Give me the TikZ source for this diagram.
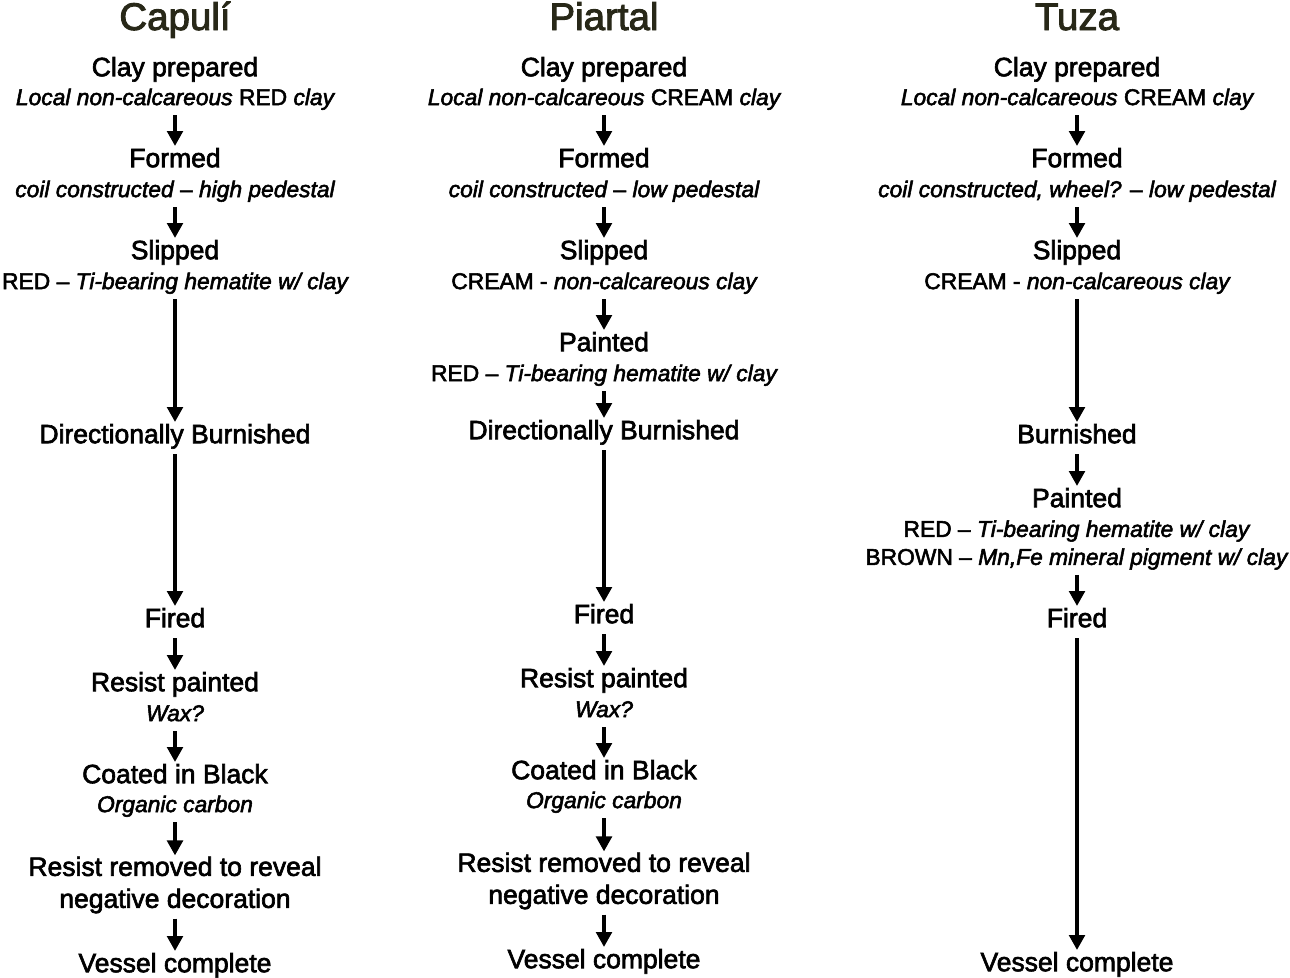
\documentclass[tikz,border=0pt]{standalone}
\usepackage{fontspec}
\setmainfont{Liberation Sans}[RawFeature={embolden=2.4}]
\usetikzlibrary{positioning,arrows.meta}
\definecolor{sitecolor}{RGB}{40,40,24}

\begin{document}
\begin{tikzpicture}[x=1pt, y=-1pt, on grid,
    site/.style={font=\fontsize{38.5}{44}\selectfont, text=sitecolor, inner sep=0pt, text height=28pt, text depth=8pt},
    stage/.style={font=\fontsize{26.5}{32}\selectfont, inner sep=0pt, text height=20pt, text depth=5.6pt},
    stagetwo/.style={font=\fontsize{26.5}{32}\selectfont, inner sep=0pt, align=center},
    note/.style={font=\fontsize{22.8}{28}\selectfont\itshape, inner sep=0pt, text height=17pt, text depth=4.8pt},
    notetwo/.style={font=\fontsize{22.8}{28}\selectfont, inner sep=0pt, align=center},
    flow/.style={-{Triangle[width=15.5pt,length=15pt]}, line width=4pt, shorten <=5pt, shorten >=1pt}]
        \useasboundingbox (0,0) rectangle (1290,977);

        % Capuli
        \node[site] (capuli) at (175,20) {Capulí};
        \node[stage] (cClay) [below=49pt of capuli] {Clay prepared};
        \node[note] (cClaySub) [below=30pt of cClay] {Local non-calcareous {\upshape RED} clay};
        \node[stage] (cFormed) [below=61pt of cClaySub] {Formed};
        \node[note] (cFormedSub) [below=31pt of cFormed] {coil constructed {\upshape --} high pedestal};
        \node[stage] (cSlip) [below=61pt of cFormedSub] {Slipped};
        \node[note] (cSlipSub) [below=31pt of cSlip] {{\upshape RED --} Ti-bearing hematite w/ clay};
        \node[stage] (cBurn) [below=153pt of cSlipSub] {Directionally Burnished};
        \node[stage] (cFired) [below=184pt of cBurn] {Fired};
        \node[stage] (cResist) [below=64pt of cFired] {Resist painted};
        \node[note] (cResistSub) [below=31pt of cResist] {Wax?};
        \node[stage] (cCoat) [below=61pt of cResistSub] {Coated in Black};
        \node[note] (cCoatSub) [below=30pt of cCoat] {Organic carbon};
        \node[stagetwo] (cRemove) [below=79pt of cCoatSub] {Resist removed to reveal\\negative decoration};
        \node[stage] (cDone) [below=80pt of cRemove] {Vessel complete};

        \draw[flow] (cClaySub.south) -- (cFormed.north);
        \draw[flow] (cFormedSub.south) -- (cSlip.north);
        \draw[flow] (cSlipSub.south) -- (cBurn.north);
        \draw[flow] (cBurn.south) -- (cFired.north);
        \draw[flow] (cFired.south) -- (cResist.north);
        \draw[flow] (cResistSub.south) -- (cCoat.north);
        \draw[flow] (cCoatSub.south) -- (cRemove.north);
        \draw[flow] (cRemove.south) -- (cDone.north);

        % Piartal
        \node[site] (piartal) at (604,20) {Piartal};
        \node[stage] (pClay) [below=49pt of piartal] {Clay prepared};
        \node[note] (pClaySub) [below=30pt of pClay] {Local non-calcareous {\upshape CREAM} clay};
        \node[stage] (pFormed) [below=61pt of pClaySub] {Formed};
        \node[note] (pFormedSub) [below=31pt of pFormed] {coil constructed {\upshape --} low pedestal};
        \node[stage] (pSlip) [below=61pt of pFormedSub] {Slipped};
        \node[note] (pSlipSub) [below=31pt of pSlip] {{\upshape CREAM -} non-calcareous clay};
        \node[stage] (pPaint) [below=61pt of pSlipSub] {Painted};
        \node[note] (pPaintSub) [below=31pt of pPaint] {{\upshape RED --} Ti-bearing hematite w/ clay};
        \node[stage] (pBurn) [below=57pt of pPaintSub] {Directionally Burnished};
        \node[stage] (pFired) [below=184pt of pBurn] {Fired};
        \node[stage] (pResist) [below=64pt of pFired] {Resist painted};
        \node[note] (pResistSub) [below=31pt of pResist] {Wax?};
        \node[stage] (pCoat) [below=61pt of pResistSub] {Coated in Black};
        \node[note] (pCoatSub) [below=30pt of pCoat] {Organic carbon};
        \node[stagetwo] (pRemove) [below=79pt of pCoatSub] {Resist removed to reveal\\negative decoration};
        \node[stage] (pDone) [below=80pt of pRemove] {Vessel complete};

        \draw[flow] (pClaySub.south) -- (pFormed.north);
        \draw[flow] (pFormedSub.south) -- (pSlip.north);
        \draw[flow] (pSlipSub.south) -- (pPaint.north);
        \draw[flow] (pPaintSub.south) -- (pBurn.north);
        \draw[flow] (pBurn.south) -- (pFired.north);
        \draw[flow] (pFired.south) -- (pResist.north);
        \draw[flow] (pResistSub.south) -- (pCoat.north);
        \draw[flow] (pCoatSub.south) -- (pRemove.north);
        \draw[flow] (pRemove.south) -- (pDone.north);

        % Tuza
        \node[site] (tuza) at (1077,20) {Tuza};
        \node[stage] (tClay) [below=49pt of tuza] {Clay prepared};
        \node[note] (tClaySub) [below=30pt of tClay] {Local non-calcareous {\upshape CREAM} clay};
        \node[stage] (tFormed) [below=61pt of tClaySub] {Formed};
        \node[note] (tFormedSub) [below=31pt of tFormed] {coil constructed, wheel? {\upshape --} low pedestal};
        \node[stage] (tSlip) [below=61pt of tFormedSub] {Slipped};
        \node[note] (tSlipSub) [below=31pt of tSlip] {{\upshape CREAM -} non-calcareous clay};
        \node[stage] (tBurn) [below=153pt of tSlipSub] {Burnished};
        \node[stage] (tPaint) [below=64pt of tBurn] {Painted};
        \node[notetwo] (tPaintSub) [below=45pt of tPaint] {RED -- \textit{Ti-bearing hematite w/ clay}\\BROWN -- \textit{Mn,Fe mineral pigment w/ clay}};
        \node[stage] (tFired) [below=75pt of tPaintSub] {Fired};
        \node[stage] (tDone) [below=344pt of tFired] {Vessel complete};

        \draw[flow] (tClaySub.south) -- (tFormed.north);
        \draw[flow] (tFormedSub.south) -- (tSlip.north);
        \draw[flow] (tSlipSub.south) -- (tBurn.north);
        \draw[flow] (tBurn.south) -- (tPaint.north);
        \draw[flow] (tPaintSub.south) -- (tFired.north);
        \draw[flow] (tFired.south) -- (tDone.north);
\end{tikzpicture}
\end{document}
